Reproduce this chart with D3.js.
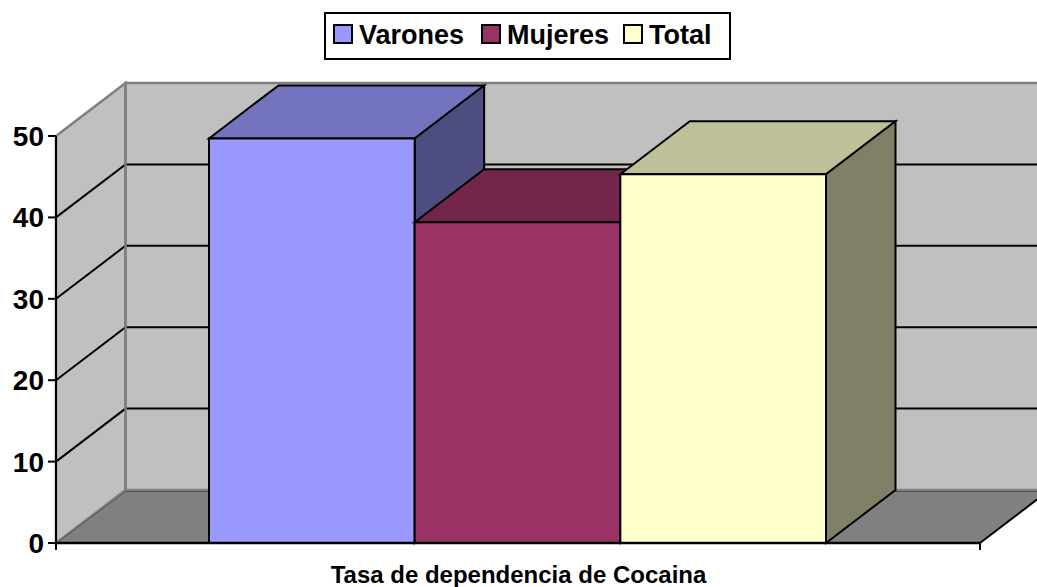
<!DOCTYPE html>
<html><head><meta charset="utf-8">
<script src="https://cdnjs.cloudflare.com/ajax/libs/d3/7.8.5/d3.min.js"></script>
<style>html,body{margin:0;padding:0;background:#fff}svg{display:block}text{font-family:"Liberation Sans",Arial,sans-serif;font-weight:bold;fill:#000}</style>
</head><body><svg id="c" width="1037" height="587"></svg>
<script>
const seriesNames = ["Varones","Mujeres","Total"];
const seriesValues = [49.7,39.4,45.3];
const frontColors = ["#9999FF","#993366","#FFFFCC"];
const topColors = ["#7373BF","#732649","#BFBF99"];
const sideColors = ["#4D4D80","#4D1A33","#808066"];
const yTicks = [0,10,20,30,40,50];
const categoryLabel = "Tasa de dependencia de Cocaina";

const W = 1037, H = 587;
const left = 56, right = 980, y0 = 543, y50 = 136, dx = 69.5, dy = -53;
const svg = d3.select("#c");
const y = d3.scaleLinear().domain([0,50]).range([y0,y50]);
const x = d3.scaleBand().domain(seriesNames).range([209,826]).padding(0);
const pts = a => a.map(p => p.join(",")).join(" ");
const poly = (p,f,s,w) => svg.append("polygon").attr("points",pts(p)).attr("fill",f).attr("stroke",s).attr("stroke-width",w).attr("stroke-linejoin","miter");
const line = (a,b,c,a2,b2) => svg.append("line").attr("x1",a[0]).attr("y1",a[1]).attr("x2",b[0]).attr("y2",b[1]).attr("stroke",c).attr("stroke-width",a2);

// walls
poly([[left,y(50)],[left+dx,y(50)+dy],[left+dx,y(0)+dy],[left,y(0)]],"#C0C0C0","#808080",2.5);
poly([[left+dx,y(50)+dy],[right+dx,y(50)+dy],[right+dx,y(0)+dy],[left+dx,y(0)+dy]],"#C0C0C0","#808080",2.5);
// gridlines
yTicks.filter(t=>t>0&&t<50).forEach(t=>{
  svg.append("polyline").attr("points",pts([[left,y(t)],[left+dx,y(t)+dy],[W+80,y(t)+dy]])).attr("fill","none").attr("stroke","#000").attr("stroke-width",2);
});
line([left+dx,y(50)+dy],[left+dx,y(0)+dy],"#808080",2.5);
// floor
poly([[left,y0],[left+dx,y0+dy],[right+dx,y0+dy],[right,y0]],"#808080","none",0);
line([left+dx,y0+dy+1.5],[right+dx,y0+dy+1.5],"#505050",1);
line([left+2,y0-1],[left+dx,y0+dy+1.5],"#505050",1);
line([right,y0],[right+dx,y0+dy],"#000",2);

// bars
seriesNames.forEach((n,i)=>{
  const a = x(n), b = a + x.bandwidth(), t = y(seriesValues[i]);
  poly([[a,t],[a+dx,t+dy],[b+dx,t+dy],[b,t]],topColors[i],"#000",2);
  poly([[b,t],[b+dx,t+dy],[b+dx,y0+dy],[b,y0]],sideColors[i],"#000",2);
  poly([[a,t],[b,t],[b,y0],[a,y0]],frontColors[i],"#000",2);
});

// axes
line([left,y50],[left,y0+7],"#000",2);
line([left,y0],[right,y0],"#000",2.5);
line([right,y0],[right,y0+7],"#000",2);
yTicks.forEach(t=>{
  line([left-8,y(t)],[left,y(t)],"#000",2);
  svg.append("text").attr("x",44).attr("y",y(t)+10).attr("text-anchor","end").attr("font-size",28).text(t);
});
svg.append("text").attr("x",518.5).attr("y",583).attr("text-anchor","middle").attr("font-size",24).text(categoryLabel);

// legend
svg.append("rect").attr("x",325).attr("y",13).attr("width",405).attr("height",46).attr("fill","#fff").attr("stroke","#000").attr("stroke-width",2);
const lx = [334,482,624];
seriesNames.forEach((n,i)=>{
  svg.append("rect").attr("x",lx[i]).attr("y",25).attr("width",18).attr("height",18).attr("fill",frontColors[i]).attr("stroke","#000").attr("stroke-width",2);
  svg.append("text").attr("x",lx[i]+25).attr("y",44).attr("font-size",27).text(n);
});
</script></body></html>
